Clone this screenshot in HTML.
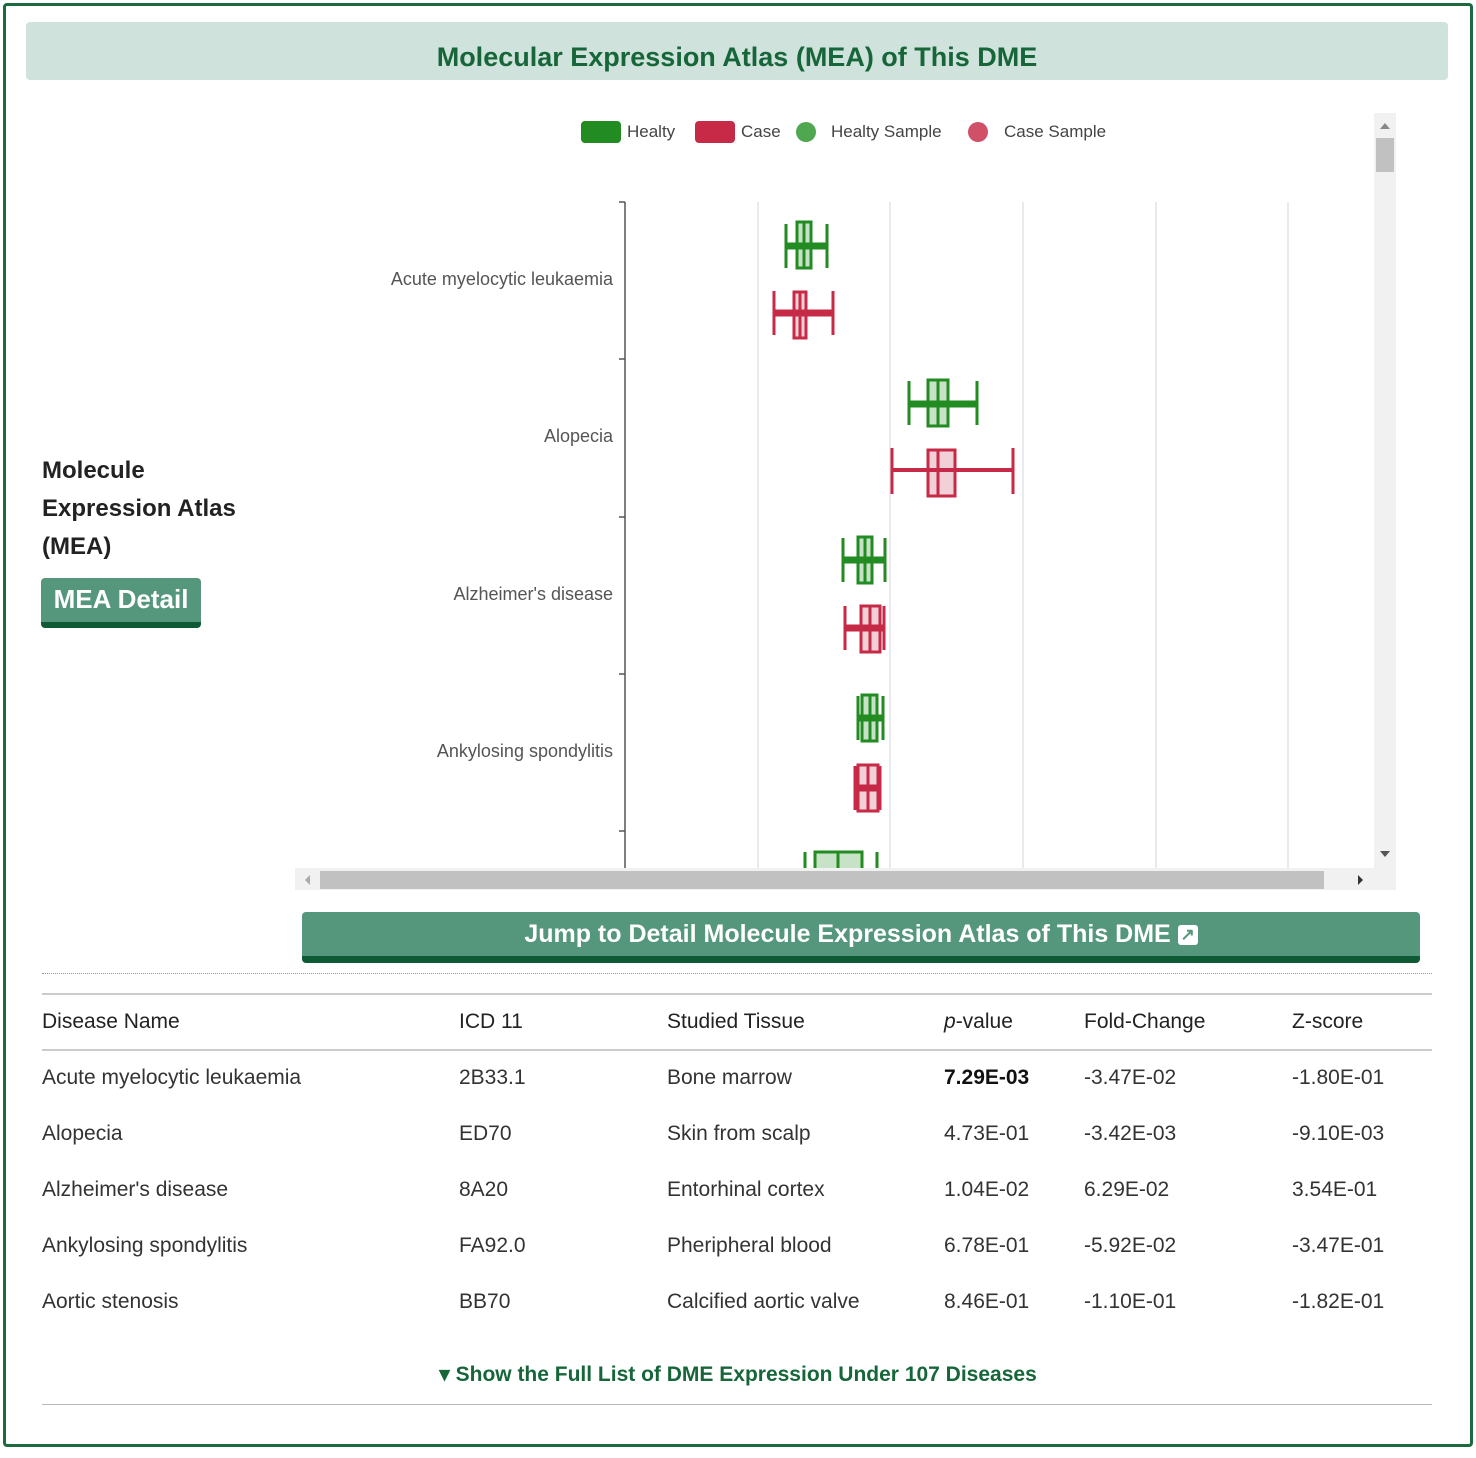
<!DOCTYPE html>
<html><head><style>
body{margin:0;width:1476px;height:1458px;background:#fff;font-family:"Liberation Sans",sans-serif;position:relative;overflow:hidden}
.a{position:absolute}
.frame{left:3px;top:3px;width:1464px;height:1438px;border:3px solid #1d6a3f;border-radius:4px}
.hdr{left:26px;top:22px;width:1422px;height:58px;background:#cfe3dc;border-radius:4px;text-align:center;line-height:70px;font-weight:bold;font-size:27px;color:#17663a}
.td{position:absolute;font-size:21px;color:#333}
</style></head><body>
<div class="a frame"></div>
<div class="a hdr">Molecular Expression Atlas (MEA) of This DME</div>
<div class="a" style="left:42px;top:452px;font-size:24px;font-weight:bold;color:#222;line-height:38px">Molecule<br>Expression Atlas<br>(MEA)</div>
<div class="a" style="left:41px;top:578px;width:160px;height:44px;background:#55977c;border-bottom:6px solid #0d5a35;border-radius:4px;color:#fff;font-weight:bold;font-size:26px;text-align:center;line-height:42px">MEA Detail</div>
<svg class="a" style="left:0;top:0" width="1476" height="900">
<g font-size="17" fill="#444">
<rect x="581" y="121" width="40" height="22" rx="4" fill="#228b22"/><text x="627" y="137">Healty</text>
<rect x="695" y="121" width="40" height="22" rx="4" fill="#c62a47"/><text x="741" y="137">Case</text>
<circle cx="806" cy="132" r="10" fill="#4fa84f"/><text x="831" y="137">Healty Sample</text>
<circle cx="978" cy="132" r="10" fill="#d05068"/><text x="1004" y="137">Case Sample</text>
</g>
<g stroke="#e1e3ea" stroke-width="1.5">
<line x1="758" y1="202" x2="758" y2="868"/><line x1="890" y1="202" x2="890" y2="868"/><line x1="1023" y1="202" x2="1023" y2="868"/><line x1="1156" y1="202" x2="1156" y2="868"/><line x1="1288" y1="202" x2="1288" y2="868"/>
</g>
<g stroke="#555" stroke-width="1.5"><line x1="625" y1="202" x2="625" y2="868"/>
<line x1="619" y1="202" x2="625" y2="202"/><line x1="619" y1="359" x2="625" y2="359"/><line x1="619" y1="517" x2="625" y2="517"/><line x1="619" y1="674" x2="625" y2="674"/><line x1="619" y1="831" x2="625" y2="831"/></g>
<g font-size="18" fill="#555" text-anchor="end">
<text x="613" y="285">Acute myelocytic leukaemia</text><text x="613" y="442">Alopecia</text><text x="613" y="600">Alzheimer's disease</text><text x="613" y="757">Ankylosing spondylitis</text></g>
<defs><clipPath id="c"><rect x="295" y="113" width="1080" height="755"/></clipPath></defs>
<g clip-path="url(#c)" stroke-width="3">
<g stroke="#228b22" fill="rgba(34,139,34,0.25)">
<line x1="786" y1="246" x2="827" y2="246" stroke-width="7"/><line x1="786" y1="224" x2="786" y2="268"/><line x1="827" y1="224" x2="827" y2="268"/><rect x="797" y="222" width="14" height="46"/><line x1="804" y1="222" x2="804" y2="268"/>
<line x1="909" y1="404" x2="977" y2="404" stroke-width="7"/><line x1="909" y1="381" x2="909" y2="425"/><line x1="977" y1="381" x2="977" y2="425"/><rect x="928" y="380" width="20" height="46"/><line x1="938" y1="380" x2="938" y2="426"/>
<line x1="843" y1="560" x2="885" y2="560" stroke-width="7"/><line x1="843" y1="538" x2="843" y2="582"/><line x1="885" y1="538" x2="885" y2="582"/><rect x="858" y="537" width="14" height="46"/><line x1="865" y1="537" x2="865" y2="583"/>
<line x1="858" y1="718" x2="883" y2="718" stroke-width="7"/><line x1="858" y1="696" x2="858" y2="740"/><line x1="883" y1="696" x2="883" y2="740"/><rect x="862" y="695" width="15" height="46"/><line x1="870" y1="695" x2="870" y2="741"/>
<line x1="805" y1="852" x2="805" y2="890"/><line x1="877" y1="852" x2="877" y2="890"/><rect x="815" y="852" width="47" height="46"/><line x1="838" y1="852" x2="838" y2="898"/>
</g>
<g stroke="#c62a47" fill="rgba(198,42,71,0.22)">
<line x1="774" y1="313" x2="833" y2="313" stroke-width="7"/><line x1="774" y1="291" x2="774" y2="335"/><line x1="833" y1="291" x2="833" y2="335"/><rect x="794" y="292" width="12" height="46"/><line x1="800" y1="292" x2="800" y2="338"/>
<line x1="892" y1="470" x2="1013" y2="470" stroke-width="4"/><line x1="892" y1="448" x2="892" y2="494"/><line x1="1013" y1="448" x2="1013" y2="494"/><rect x="928" y="450" width="27" height="46"/><line x1="938" y1="450" x2="938" y2="496"/>
<line x1="845" y1="628" x2="884" y2="628" stroke-width="7"/><line x1="845" y1="606" x2="845" y2="650"/><line x1="884" y1="606" x2="884" y2="650"/><rect x="861" y="606" width="19" height="46"/><line x1="870" y1="606" x2="870" y2="652"/>
<line x1="855" y1="788" x2="880" y2="788" stroke-width="7"/><line x1="855" y1="766" x2="855" y2="810"/><line x1="880" y1="766" x2="880" y2="810"/><rect x="858" y="765" width="20" height="46"/><line x1="868" y1="765" x2="868" y2="811"/>
</g></g>
<rect x="1374" y="113" width="22" height="755" fill="#f1f1f1"/><rect x="1376" y="138" width="18" height="34" fill="#c1c1c1"/>
<polygon points="1380,129 1390,129 1385,123" fill="#888"/><polygon points="1380,851 1390,851 1385,857" fill="#555"/>
<rect x="295" y="868" width="1101" height="22" fill="#f1f1f1"/><rect x="320" y="871" width="1004" height="18" fill="#c1c1c1"/>
<polygon points="310,875 310,885 305,880" fill="#aaa"/><polygon points="1358,875 1358,885 1363,880" fill="#333"/>
</svg>
<div class="a" style="left:302px;top:912px;width:1118px;height:44px;background:#55977c;border-bottom:7px solid #0d5a35;border-radius:4px;color:#fff;font-weight:bold;font-size:25px;text-align:center;line-height:44px">Jump to Detail Molecule Expression Atlas of This DME <span style="display:inline-block;width:20px;height:20px;background:#fff;color:#55977c;border-radius:3px;font-size:17px;line-height:20px;vertical-align:2px">↗</span></div>
<div class="a" style="left:42px;top:973px;width:1390px;border-top:1px dotted #99a"></div>
<div class="a" style="left:42px;top:993px;width:1390px;border-top:2px solid #ccc"></div>
<div class="a" style="left:42px;top:1049px;width:1390px;border-top:2px solid #ccc"></div>
<div class="a" style="left:42px;top:1404px;width:1390px;border-top:1px solid #bbb"></div>
<div class="td" style="left:42px;top:1010px;color:#222">Disease Name</div><div class="td" style="left:459px;top:1010px;color:#222">ICD 11</div><div class="td" style="left:667px;top:1010px;color:#222">Studied Tissue</div><div class="td" style="left:944px;top:1010px;color:#222"><i>p</i>-value</div><div class="td" style="left:1084px;top:1010px;color:#222">Fold-Change</div><div class="td" style="left:1292px;top:1010px;color:#222">Z-score</div>
<div class="td" style="left:42px;top:1066px">Acute myelocytic leukaemia</div><div class="td" style="left:459px;top:1066px">2B33.1</div><div class="td" style="left:667px;top:1066px">Bone marrow</div><div class="td" style="left:944px;top:1066px;font-weight:bold;color:#111">7.29E-03</div><div class="td" style="left:1084px;top:1066px">-3.47E-02</div><div class="td" style="left:1292px;top:1066px">-1.80E-01</div>
<div class="td" style="left:42px;top:1122px">Alopecia</div><div class="td" style="left:459px;top:1122px">ED70</div><div class="td" style="left:667px;top:1122px">Skin from scalp</div><div class="td" style="left:944px;top:1122px">4.73E-01</div><div class="td" style="left:1084px;top:1122px">-3.42E-03</div><div class="td" style="left:1292px;top:1122px">-9.10E-03</div>
<div class="td" style="left:42px;top:1178px">Alzheimer's disease</div><div class="td" style="left:459px;top:1178px">8A20</div><div class="td" style="left:667px;top:1178px">Entorhinal cortex</div><div class="td" style="left:944px;top:1178px">1.04E-02</div><div class="td" style="left:1084px;top:1178px">6.29E-02</div><div class="td" style="left:1292px;top:1178px">3.54E-01</div>
<div class="td" style="left:42px;top:1234px">Ankylosing spondylitis</div><div class="td" style="left:459px;top:1234px">FA92.0</div><div class="td" style="left:667px;top:1234px">Pheripheral blood</div><div class="td" style="left:944px;top:1234px">6.78E-01</div><div class="td" style="left:1084px;top:1234px">-5.92E-02</div><div class="td" style="left:1292px;top:1234px">-3.47E-01</div>
<div class="td" style="left:42px;top:1290px">Aortic stenosis</div><div class="td" style="left:459px;top:1290px">BB70</div><div class="td" style="left:667px;top:1290px">Calcified aortic valve</div><div class="td" style="left:944px;top:1290px">8.46E-01</div><div class="td" style="left:1084px;top:1290px">-1.10E-01</div><div class="td" style="left:1292px;top:1290px">-1.82E-01</div>
<div class="a" style="left:0;width:1476px;top:1362px;text-align:center;font-size:21px;font-weight:bold;color:#17663a">▾ Show the Full List of DME Expression Under 107 Diseases</div>
</body></html>
